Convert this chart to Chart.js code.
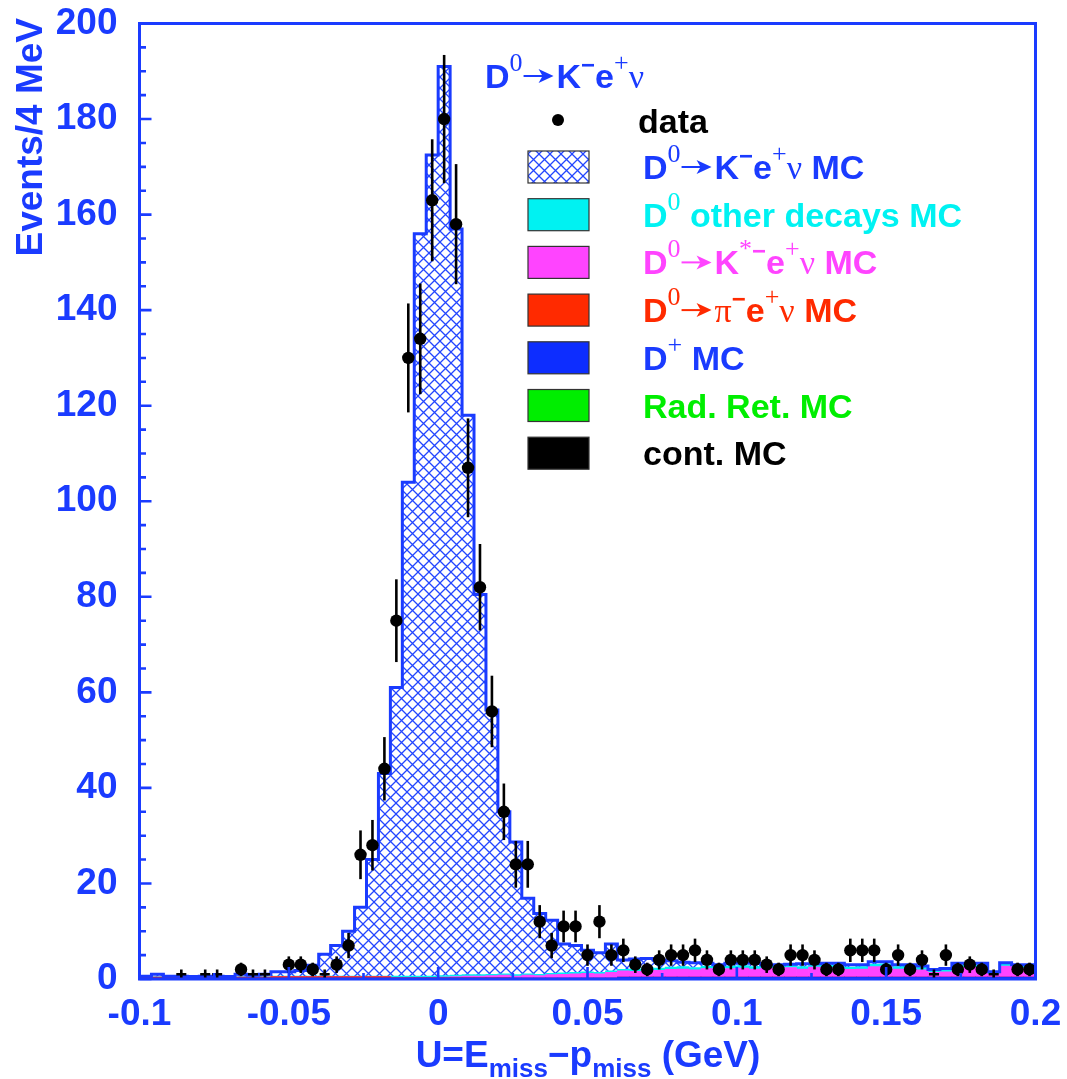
<!DOCTYPE html>
<html>
<head>
<meta charset="utf-8">
<script src="https://cdn.jsdelivr.net/npm/chart.js@4.4.1/dist/chart.umd.min.js"></script>
<style>
  html, body { margin: 0; padding: 0; background: #fff; }
  #wrap { width: 1067px; height: 1079px; }
</style>
</head>
<body>
<div id="wrap"><canvas id="myChart"></canvas></div>
<script>
const SANS = '"Liberation Sans", Arial, Helvetica, sans-serif';
const SERIF = '"Liberation Serif", "Times New Roman", serif';
const BLUE = '#1a3bff';
const CYAN = '#00f2f2';
const MAGENTA = '#ff44ff';
const RED = '#ff2a00';
const DBLUE = '#0d2dff';
const GREEN = '#00ee00';

// 4 MeV bins, centres in GeV
const binCenters = [
  -0.098, -0.094, -0.090, -0.086, -0.082, -0.078, -0.074, -0.070, -0.066, -0.062,
  -0.058, -0.054, -0.050, -0.046, -0.042, -0.038, -0.034, -0.030, -0.026, -0.022,
  -0.018, -0.014, -0.010, -0.006, -0.002, 0.002, 0.006, 0.010, 0.014, 0.018,
  0.022, 0.026, 0.030, 0.034, 0.038, 0.042, 0.046, 0.050, 0.054, 0.058,
  0.062, 0.066, 0.070, 0.074, 0.078, 0.082, 0.086, 0.090, 0.094, 0.098,
  0.102, 0.106, 0.110, 0.114, 0.118, 0.122, 0.126, 0.130, 0.134, 0.138,
  0.142, 0.146, 0.150, 0.154, 0.158, 0.162, 0.166, 0.170, 0.174, 0.178,
  0.182, 0.186, 0.190, 0.194, 0.198
];

const dataCounts = [
  0, 0, 0, 1, 0, 1, 1, 0, 2, 1,
  1, 0, 3, 3, 2, 1, 3, 7, 26, 28,
  44, 75, 130, 134, 163, 180, 158, 107, 82, 56,
  35, 24, 24, 12, 7, 11, 11, 5, 12, 5,
  6, 3, 2, 4, 5, 5, 6, 4, 2, 4,
  4, 4, 3, 2, 5, 5, 4, 2, 2, 6,
  6, 6, 2, 5, 2, 4, 1, 5, 2, 3,
  2, 1, 0, 2, 2
];

// MC components, bottom of the stack first
const mcCont = [
  0.1, 0.1, 0.1, 0.1, 0.1, 0.1, 0.1, 0.1, 0.1, 0.1,
  0.1, 0, 0, 0, 0, 0, 0, 0, 0, 0,
  0, 0, 0, 0, 0, 0, 0, 0, 0, 0,
  0, 0, 0, 0, 0, 0, 0, 0, 0, 0,
  0, 0, 0, 0, 0, 0, 0, 0, 0, 0,
  0, 0, 0, 0, 0, 0, 0, 0, 0, 0,
  0, 0, 0, 0, 0, 0, 0, 0, 0, 0,
  0, 0, 0, 0, 0
];
const mcRadRet = [
  0, 0, 0, 0, 0, 0, 0, 0, 0, 0,
  0, 0, 0, 0, 0, 0, 0, 0, 0, 0,
  0, 0, 0, 0, 0, 0, 0, 0, 0, 0,
  0, 0, 0, 0, 0, 0, 0, 0, 0, 0,
  0, 0, 0, 0, 0, 0, 0, 0, 0, 0,
  0, 0, 0, 0, 0, 0, 0, 0, 0, 0,
  0, 0, 0, 0, 0, 0, 0, 0, 0, 0,
  0, 0, 0, 0, 0
];
const mcDplus = [
  0.1, 0.1, 0.1, 0.1, 0.1, 0.1, 0.1, 0.1, 0.1, 0.1,
  0.1, 0.2, 0.2, 0.2, 0.2, 0.2, 0.2, 0.2, 0.2, 0.2,
  0.2, 0.2, 0.2, 0.2, 0.2, 0.2, 0.2, 0.2, 0.2, 0.2,
  0.2, 0.2, 0.2, 0.2, 0.2, 0.2, 0.2, 0.2, 0.2, 0.2,
  0.4, 0.4, 0.4, 0.4, 0.4, 0.4, 0.4, 0.4, 0.4, 0.4,
  0.4, 0.4, 0.4, 0.4, 0.4, 0.4, 0.4, 0.4, 0.4, 0.4,
  0.4, 0.4, 0.4, 0.4, 0.4, 0.4, 0.4, 0.4, 0.4, 0.4,
  0.4, 0.4, 0.4, 0.4, 0.4
];
const mcPienu = [
  0.2, 0.2, 0.2, 0.2, 0.2, 0.2, 0.2, 0.2, 0.2, 0.2,
  0.2, 0.3, 0.3, 0.3, 0.3, 0.3, 0.3, 0.3, 0.3, 0.3,
  0.3, 0.1, 0.1, 0.1, 0.1, 0.1, 0.1, 0.1, 0.1, 0.1,
  0.1, 0, 0, 0, 0, 0, 0, 0, 0, 0,
  0, 0, 0, 0, 0, 0, 0, 0, 0, 0,
  0, 0, 0, 0, 0, 0, 0, 0, 0, 0,
  0, 0, 0, 0, 0, 0, 0, 0, 0, 0,
  0, 0, 0, 0, 0
];
const mcKstar = [
  0, 0, 0, 0, 0, 0, 0, 0, 0, 0,
  0, 0, 0, 0, 0, 0, 0, 0, 0, 0,
  0, 0, 0, 0, 0, 0.1, 0.2, 0.3, 0.3, 0.4,
  0.5, 0.4, 0.6, 0.5, 0.7, 0.8, 0.9, 1.0, 0.9, 1.2,
  1.3, 1.2, 1.5, 1.4, 1.6, 1.7, 1.5, 1.8, 1.6, 1.8,
  1.9, 1.7, 1.9, 1.8, 2.0, 1.7, 2.1, 2.0, 1.9, 1.6,
  1.7, 2.2, 2.3, 1.7, 1.8, 1.5, 1.0, 1.1, 2.0, 2.1,
  2.0, 0.6, 2.3, 1.9, 1.8
];
const mcOther = [
  0.1, 0.1, 0.1, 0.1, 0.1, 0.1, 0.1, 0.1, 0.1, 0.1,
  0.1, 0.1, 0.1, 0.1, 0.1, 0.1, 0.1, 0.1, 0.1, 0.1,
  0.1, 0.3, 0.3, 0.3, 0.3, 0.3, 0.3, 0.3, 0.3, 0.3,
  0.3, 0.3, 0.3, 0.3, 0.3, 0.3, 0.3, 0.3, 0.3, 0.3,
  0.3, 0.5, 0.5, 0.5, 0.5, 0.5, 0.5, 0.5, 0.5, 0.5,
  0.5, 0.5, 0.5, 0.5, 0.5, 0.5, 0.5, 0.5, 0.5, 0.5,
  0.5, 0.5, 0.5, 0.5, 0.5, 0.5, 0.5, 0.5, 0.5, 0.5,
  0.5, 0.5, 0.5, 0.5, 0.5
];
const mcKenu = [
  0.1, 0.5, 0.1, 0.1, 0.0, 0.1, 0.1, 0.0, 0.5, 0.3,
  0.5, 0.9, 0.9, 1.2, 2.3, 4.6, 6.4, 9.4, 14.4, 24.4,
  42.4, 60.4, 103.4, 155.4, 171.9, 190.3, 156.2, 117.1, 79.6, 55.3,
  33.9, 27.8, 15.8, 12.7, 11.1, 6.0, 5.6, 4.5, 4.1, 5.6,
  2.0, 2.1, 1.9, 1.7, 1.3, 0.9, 1.0, 0.6, 0.5, 0.6,
  0.5, 0.7, 0.2, 0.3, 0.2, 0.6, 0.2, 0.4, 0.5, 0.5,
  0.4, 0.5, 0.4, 0.4, 0.3, 0.3, 0.1, 0.2, 0.4, 0.3,
  0.4, 0.0, 0.2, 0.2, 0.3
];

const xTickValues = [-0.1, -0.05, 0, 0.05, 0.1, 0.15, 0.2];
const yTickValues = [0, 20, 40, 60, 80, 100, 120, 140, 160, 180, 200];
const xMinorStep = 0.025;
const yMinorStep = 5;

const canvas = document.getElementById('myChart');
const ctx0 = canvas.getContext('2d');

// blue cross-hatch used for the signal MC
function makeHatch(ctx) {
  const s = 11;
  const c = document.createElement('canvas');
  c.width = s; c.height = s;
  const g = c.getContext('2d');
  g.fillStyle = '#fff';
  g.fillRect(0, 0, s, s);
  g.strokeStyle = '#2346ff';
  g.lineWidth = 1.3;
  g.beginPath();
  g.moveTo(-1, -1); g.lineTo(s + 1, s + 1);
  g.moveTo(-1, s + 1); g.lineTo(s + 1, -1);
  g.stroke();
  return ctx.createPattern(c, 'repeat');
}
const hatch = makeHatch(ctx0);

const toXY = arr => arr.map((v, i) => ({ x: binCenters[i], y: v }));

const stackParts = [mcCont, mcRadRet, mcDplus, mcPienu, mcKstar, mcOther, mcKenu];
const mcTotal = binCenters.map((_, i) => stackParts.reduce((s, a) => s + a[i], 0));
const outline = [{ x: xTickValues[0], y: mcTotal[0] }]
  .concat(toXY(mcTotal))
  .concat([{ x: xTickValues[xTickValues.length - 1], y: mcTotal[mcTotal.length - 1] }]);

function barSet(label, arr, color) {
  return {
    type: 'bar',
    label: label,
    data: toXY(arr),
    backgroundColor: color,
    borderWidth: 0,
    barPercentage: 1,
    categoryPercentage: 1,
    stack: 'mc',
    order: 2
  };
}

// ---- rich text (sub/superscripts, arrow) ----
function drawRich(ctx, x, y, parts, color, measureOnly) {
  let cx = x;
  for (const p of parts) {
    if (p.arrow) {
      if (!measureOnly) {
        const ay = y - p.dy;
        ctx.save();
        ctx.strokeStyle = color; ctx.fillStyle = color; ctx.lineWidth = 2;
        ctx.beginPath(); ctx.moveTo(cx + 1, ay); ctx.lineTo(cx + p.len - 10, ay); ctx.stroke();
        ctx.beginPath();
        ctx.moveTo(cx + p.len, ay);
        ctx.lineTo(cx + p.len - 15, ay - 7);
        ctx.lineTo(cx + p.len - 11, ay);
        ctx.lineTo(cx + p.len - 15, ay + 7);
        ctx.closePath(); ctx.fill();
        ctx.restore();
      }
      cx += p.len + 3;
      continue;
    }
    ctx.font = (p.w || 'bold') + ' ' + p.size + 'px ' + (p.f || SANS);
    if (!measureOnly) ctx.fillText(p.t, cx, y - (p.dy || 0));
    cx += ctx.measureText(p.t).width + (p.gap || 0);
  }
  return cx - x;
}

const L = 34;
const txt = t => ({ t: t, size: L });
const supSerif = t => ({ t: t, size: 26, f: SERIF, w: 'normal', dy: 17 });
const supSans = t => ({ t: t, size: 24, dy: 15 });
const greek = t => ({ t: t, size: L, f: SERIF, w: 'normal' });
const arrow = { arrow: true, len: 31, dy: 12 };
const dArrow = [txt('D'), supSerif('0'), arrow];

const titleParts = dArrow.concat([txt('K'), supSans('\u2212'), txt('e'), supSerif('+'), greek('\u03bd')]);

const legendRows = [
  { fill: hatch, color: BLUE, parts: dArrow.concat([txt('K'), supSans('\u2212'), txt('e'), supSerif('+'), greek('\u03bd'), txt(' MC')]) },
  { fill: CYAN, color: CYAN, parts: [txt('D'), supSerif('0'), txt(' other decays MC')] },
  { fill: MAGENTA, color: MAGENTA, parts: dArrow.concat([txt('K'), { t: '*', size: 26, f: SERIF, w: 'normal', dy: 17 }, supSans('\u2212'), txt('e'), supSerif('+'), greek('\u03bd'), txt(' MC')]) },
  { fill: RED, color: RED, parts: dArrow.concat([greek('\u03c0'), supSans('\u2212'), txt('e'), supSerif('+'), greek('\u03bd'), txt(' MC')]) },
  { fill: DBLUE, color: BLUE, parts: [txt('D'), supSerif('+'), txt(' MC')] },
  { fill: GREEN, color: GREEN, parts: [txt('Rad. Ret. MC')] },
  { fill: '#000', color: '#000', parts: [txt('cont. MC')] }
];

const DATA_INDEX = 0;

const decorations = {
  id: 'decorations',
  afterDatasetsDraw(chart) {
    const ctx = chart.ctx;
    const xs = chart.scales.x, ys = chart.scales.y;
    const meta = chart.getDatasetMeta(DATA_INDEX);
    const binPx = xs.getPixelForValue(binCenters[1]) - xs.getPixelForValue(binCenters[0]);
    ctx.save();
    ctx.strokeStyle = '#000';
    ctx.lineWidth = 2.6;
    dataCounts.forEach((n, i) => {
      if (n <= 0) return;
      const pt = meta.data[i];
      const err = Math.sqrt(n);
      ctx.beginPath();
      ctx.moveTo(pt.x, ys.getPixelForValue(n + err));
      ctx.lineTo(pt.x, ys.getPixelForValue(n - err));
      if (n === 1) {
        ctx.moveTo(pt.x - binPx * 0.42, pt.y);
        ctx.lineTo(pt.x + binPx * 0.42, pt.y);
      }
      ctx.stroke();
    });
    ctx.restore();
  },
  afterDraw(chart) {
    const ctx = chart.ctx;
    const a = chart.chartArea;
    const xs = chart.scales.x, ys = chart.scales.y;
    ctx.save();

    // inward ticks
    ctx.strokeStyle = BLUE;
    ctx.lineWidth = 2.6;
    ctx.beginPath();
    for (let v = yTickValues[0]; v <= yTickValues[yTickValues.length - 1] + 1e-9; v += yMinorStep) {
      const py = ys.getPixelForValue(v);
      const major = yTickValues.includes(v);
      ctx.moveTo(a.left, py);
      ctx.lineTo(a.left + (major ? 12 : 6.5), py);
    }
    const nx = Math.round((xTickValues[xTickValues.length - 1] - xTickValues[0]) / xMinorStep);
    for (let k = 0; k <= nx; k++) {
      const v = xTickValues[0] + k * xMinorStep;
      const px = xs.getPixelForValue(v);
      const major = k % 2 === 0;
      ctx.moveTo(px, a.bottom);
      ctx.lineTo(px, a.bottom - (major ? 12 : 6));
    }
    ctx.stroke();

    // frame
    ctx.lineWidth = 3;
    ctx.strokeRect(a.left, a.top, a.right - a.left, a.bottom - a.top);

    // axis titles
    ctx.fillStyle = BLUE;
    ctx.textBaseline = 'alphabetic';
    const xt = [
      { t: 'U=E', size: 37 }, { t: 'miss', size: 26, dy: -10 },
      { t: '\u2212p', size: 37 }, { t: 'miss', size: 26, dy: -10 },
      { t: ' (GeV)', size: 37 }
    ];
    const w = drawRich(ctx, 0, 0, xt, BLUE, true);
    drawRich(ctx, 588 - w / 2, 1067, xt, BLUE);

    ctx.save();
    ctx.translate(42, 18);
    ctx.rotate(-Math.PI / 2);
    ctx.textAlign = 'right';
    ctx.font = 'bold 37px ' + SANS;
    ctx.fillText('Events/4 MeV', 0, 0);
    ctx.restore();

    // legend
    drawRich(ctx, 485, 88, titleParts, BLUE);

    ctx.fillStyle = '#000';
    ctx.beginPath();
    ctx.arc(558, 120, 6, 0, Math.PI * 2);
    ctx.fill();
    drawRich(ctx, 638, 133, [txt('data')], '#000');

    legendRows.forEach((row, i) => {
      const cy = 167 + i * 47.7;
      ctx.fillStyle = row.fill;
      ctx.fillRect(528, cy - 16, 61, 32);
      ctx.strokeStyle = '#333';
      ctx.lineWidth = 1.2;
      ctx.strokeRect(528, cy - 16, 61, 32);
      ctx.fillStyle = row.color;
      drawRich(ctx, 643, cy + 12, row.parts, row.color);
    });

    ctx.restore();
  }
};

const tickFont = { family: SANS, size: 37, weight: 'bold' };

new Chart(canvas, {
  data: {
    datasets: [
      {
        type: 'scatter',
        label: 'data',
        data: toXY(dataCounts),
        pointRadius: c => (c.raw && c.raw.y >= 2 ? 6.2 : 0),
        pointBackgroundColor: '#000',
        pointBorderWidth: 0,
        stack: 'data',
        order: 0
      },
      {
        type: 'line',
        label: 'MC total',
        data: outline,
        stepped: 'middle',
        borderColor: BLUE,
        borderWidth: 3,
        pointRadius: 0,
        fill: false,
        stack: 'outline',
        order: 1
      },
      barSet('cont. MC', mcCont, '#000'),
      barSet('Rad. Ret. MC', mcRadRet, GREEN),
      barSet('D+ MC', mcDplus, DBLUE),
      barSet('D0 -> pi e nu MC', mcPienu, RED),
      barSet('D0 -> K* e nu MC', mcKstar, MAGENTA),
      barSet('D0 other decays MC', mcOther, CYAN),
      barSet('D0 -> K e nu MC', mcKenu, hatch)
    ]
  },
  options: {
    responsive: true,
    maintainAspectRatio: false,
    animation: false,
    devicePixelRatio: 1,
    layout: { padding: { top: 23.5, right: 31.5, left: 0, bottom: 0 } },
    plugins: {
      legend: { display: false },
      tooltip: { enabled: false }
    },
    scales: {
      x: {
        type: 'linear',
        min: xTickValues[0],
        max: xTickValues[xTickValues.length - 1],
        offset: false,
        stacked: true,
        grid: { display: false, drawTicks: false },
        border: { display: false },
        afterBuildTicks: s => { s.ticks = xTickValues.map(v => ({ value: v })); },
        afterFit: s => {
          s.height = 100;
          s.paddingLeft = 0; s.paddingRight = 0;
        },
        ticks: {
          autoSkip: false,
          maxRotation: 0,
          padding: 14,
          color: BLUE,
          font: tickFont,
          callback: v => String(parseFloat(Number(v).toFixed(3)))
        }
      },
      y: {
        type: 'linear',
        min: yTickValues[0],
        max: yTickValues[yTickValues.length - 1],
        stacked: true,
        grid: { display: false, drawTicks: false },
        border: { display: false },
        afterBuildTicks: s => { s.ticks = yTickValues.map(v => ({ value: v })); },
        afterFit: s => {
          s.width = 139.5;
          s.paddingTop = 0; s.paddingBottom = 0;
        },
        ticks: {
          padding: 22,
          color: BLUE,
          font: tickFont
        }
      }
    }
  },
  plugins: [decorations]
});
</script>
</body>
</html>
